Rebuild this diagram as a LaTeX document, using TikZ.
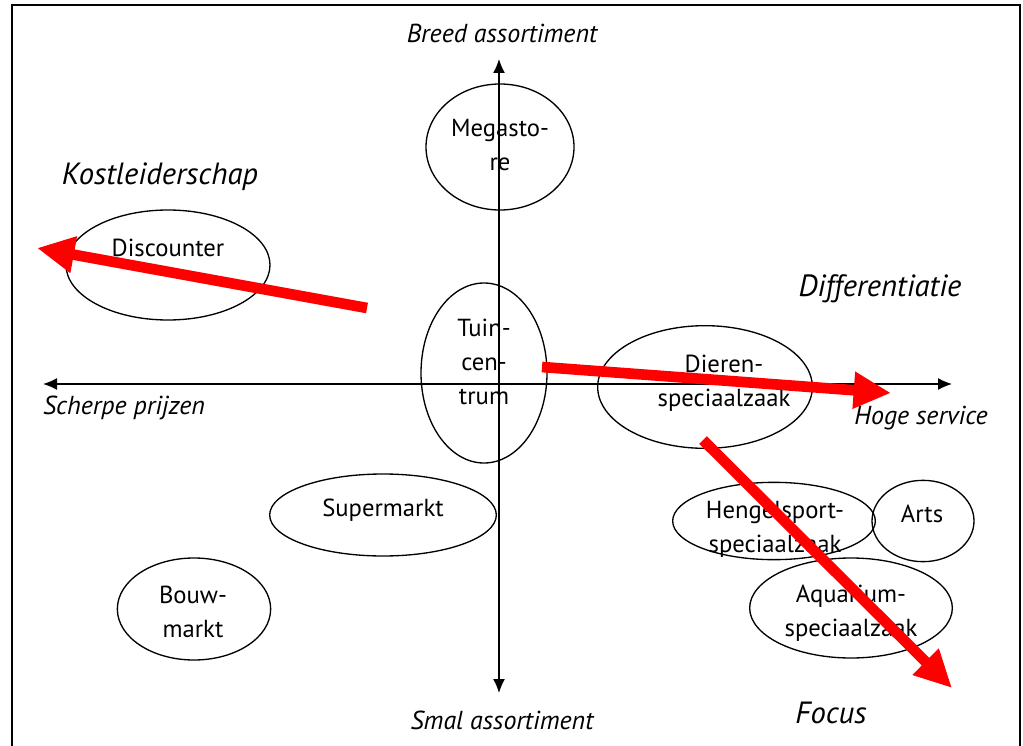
\documentclass[tikz,border=0pt]{standalone}
\usepackage{fontspec}
\setmainfont{PT Sans}
\usetikzlibrary{shapes.geometric,arrows.meta}

\begin{document}
\begin{tikzpicture}[x=0.75pt,y=-0.75pt,
    oval/.style={draw,ellipse,inner sep=0pt,line width=1pt},
    txt/.style={align=center,font=\fontsize{18.5}{25.5}\selectfont,inner sep=0pt},
    axlabel/.style={font=\fontsize{19.5}{22}\selectfont\itshape,inner sep=0pt},
    stratlabel/.style={font=\fontsize{23}{26}\selectfont\itshape,inner sep=0pt},
    axis/.style={line width=1pt,{Latex[length=10.5pt,width=9pt]}-{Latex[length=10.5pt,width=9pt]}},
    strategy/.style={red,line width=8pt,-{Triangle[length=28pt,width=26pt]}}]
        \useasboundingbox (0,0) rectangle (1023,745);
        \draw[line width=1.5pt] (12,760) -- (12,5) -- (1020,5) -- (1020,760);
        % ellipses
        \node[oval,minimum width=111pt,minimum height=94.5pt] (mega) at (500,147) {};
        \node[oval,minimum width=153pt,minimum height=82.5pt] (disc) at (168,265) {};
        \node[oval,minimum width=94.5pt,minimum height=135pt] (tuin) at (484,373) {};
        \node[oval,minimum width=161pt,minimum height=92pt] (dier) at (705,387) {};
        \node[oval,minimum width=170pt,minimum height=61.5pt] (super) at (383,515) {};
        \node[oval,minimum width=115pt,minimum height=76.5pt] (bouw) at (194,609) {};
        \node[oval,minimum width=152pt,minimum height=58pt] (hengel) at (774,521) {};
        \node[txt] (hengeltxt) at (775,529) {Hengelsport-\\speciaalzaak};
        \node[oval,minimum width=76.5pt,minimum height=61pt] (arts) at (923,521) {};
        \node[oval,fill=white,minimum width=152pt,minimum height=75pt] (aqua) at (851,608) {};
        % texts
        \node[txt] (megatxt) at (500,145) {Megasto-\\re};
        \node[txt] (disctxt) at (168,248) {Discounter};
        \node[txt] (tuintxt) at (484,362) {Tuin-\\cen-\\trum};
        \node[txt] (diertxt) at (724,383) {Dieren-\\speciaalzaak};
        \node[txt] (supertxt) at (383,510) {Supermarkt};
        \node[txt] (bouwtxt) at (193,612) {Bouw-\\markt};
        \node[txt] (artstxt) at (922,514) {Arts};
        \node[txt] (aquatxt) at (851,613) {Aquarium-\\speciaalzaak};
        % axes
        \coordinate (top) at (499,59);
        \coordinate (bottom) at (499,693);
        \coordinate (left) at (43,384);
        \coordinate (right) at (952,384);
        \draw[axis] (bottom) -- (top);
        \draw[axis] (left) -- (right);
        \node[axlabel] (breed) at (502,33) {Breed assortiment};
        \node[axlabel] (smal) at (502,720) {Smal assortiment};
        \node[axlabel] (scherp) at (124,408) {Scherpe prijzen};
        \node[axlabel] (hoog) at (921,418) {Hoge service};
        \node[stratlabel] (kost) at (160,177) {Kostleiderschap};
        \node[stratlabel] (diff) at (880,289) {Differentiatie};
        \node[stratlabel] (focus) at (831,713) {Focus};
        % strategy arrows
        \coordinate (kostA) at (367,308);
        \coordinate (kostB) at (37,248);
        \coordinate (diffA) at (542,367);
        \coordinate (diffB) at (891,393);
        \coordinate (focusA) at (703,440);
        \coordinate (focusB) at (952,688);
        \draw[strategy] (kostA) -- (kostB);
        \draw[strategy] (diffA) -- (diffB);
        \draw[strategy] (focusA) -- (focusB);
\end{tikzpicture}
\end{document}
